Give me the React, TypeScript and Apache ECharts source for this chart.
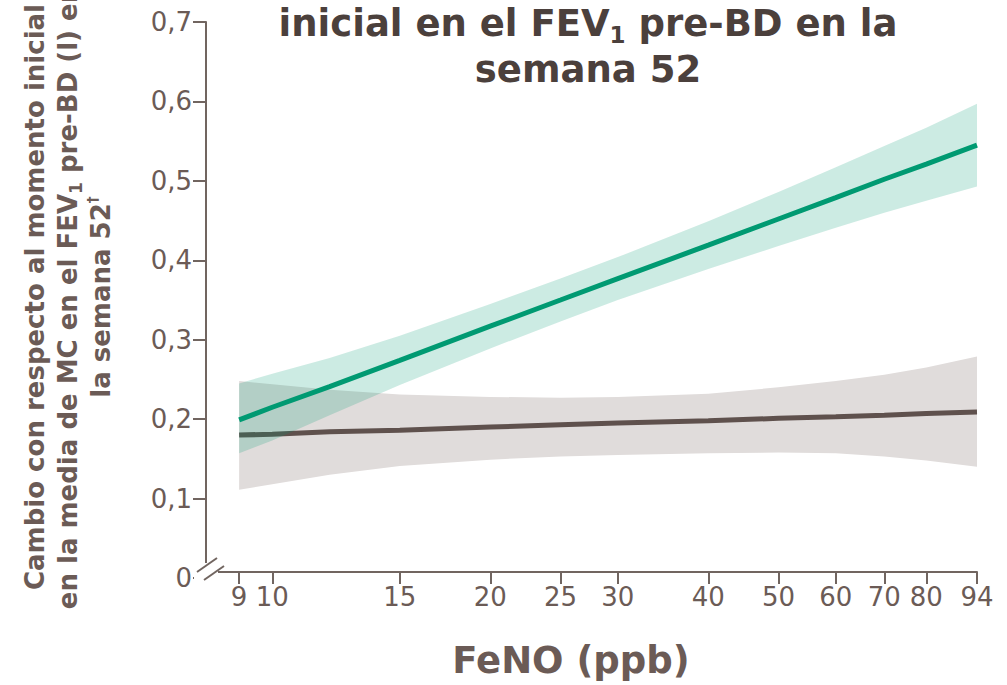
import React, { useEffect, useRef } from "react";
import * as echarts from "echarts";

// FeNO (ppb) sample points along the fitted curves
const fenoValues = [9, 10, 12, 15, 20, 25, 30, 40, 50, 60, 70, 80, 94];
// Tick labels on the (logarithmic) FeNO axis
const xTickLabels = [9, 10, 15, 20, 25, 30, 40, 50, 60, 70, 80, 94];
const xAxisMin = 8.1;
const xAxisMax = 94;

// Active treatment (green)
const activeMean = [0.199, 0.215, 0.241, 0.274, 0.317, 0.35, 0.377, 0.419, 0.452, 0.479, 0.502, 0.521, 0.545];
const activeUpper = [0.245, 0.257, 0.277, 0.305, 0.345, 0.377, 0.404, 0.449, 0.486, 0.517, 0.544, 0.567, 0.597];
const activeLower = [0.157, 0.173, 0.205, 0.243, 0.289, 0.323, 0.35, 0.389, 0.418, 0.441, 0.46, 0.475, 0.493];

// Placebo (grey)
const placeboMean = [0.18, 0.181, 0.184, 0.186, 0.19, 0.193, 0.195, 0.198, 0.201, 0.203, 0.205, 0.207, 0.209];
const placeboUpper = [0.248, 0.244, 0.237, 0.231, 0.228, 0.227, 0.228, 0.232, 0.24, 0.248, 0.256, 0.265, 0.279];
const placeboLower = [0.111, 0.118, 0.13, 0.141, 0.149, 0.153, 0.155, 0.157, 0.158, 0.157, 0.153, 0.148, 0.14];

const titleRich = "{a|inicial en el FEV}{s|1}{a| pre-BD en la}\n{a|semana 52}";
const yAxisTitleRich =
  "{a|Cambio con respecto al momento inicial}\n" +
  "{a|en la media de MC en el FEV}{s|1}{a| pre-BD (l) en}\n" +
  "{a|la semana 52}{d|†}";
const xAxisTitle = "FeNO (ppb)";

const AXIS = "#716560";
const TEXT = "#6b5b56";
const TITLE = "#4b403c";
const FONT = "DejaVu Sans, Verdana, sans-serif";

const lg = (v: number) => Math.log10(v);

function bandSeries(upper: number[], lower: number[], fill: string, z: number) {
  return {
    type: "custom",
    z,
    silent: true,
    data: [[lg(fenoValues[0]), lower[0]]],
    renderItem: (params: any, api: any) => {
      if (params.dataIndex !== 0) return null;
      const pts: number[][] = [];
      for (let i = 0; i < fenoValues.length; i++) pts.push(api.coord([lg(fenoValues[i]), upper[i]]));
      for (let i = fenoValues.length - 1; i >= 0; i--) pts.push(api.coord([lg(fenoValues[i]), lower[i]]));
      return { type: "polygon", shape: { points: pts }, style: { fill } };
    },
  };
}

function lineSeries(values: number[], color: string, z: number) {
  return {
    type: "line",
    z,
    silent: true,
    showSymbol: false,
    data: fenoValues.map((f, i) => [lg(f), values[i]]),
    lineStyle: { color, width: 5 },
  };
}

export default function App() {
  const ref = useRef<HTMLDivElement>(null);
  useEffect(() => {
    if (!ref.current) return;
    const chart = echarts.init(ref.current, null, { renderer: "svg" });
    chart.setOption({
      animation: false,
      backgroundColor: "#ffffff",
      grid: { left: 206, right: 30, top: 22, bottom: 107 },
      xAxis: {
        type: "value",
        min: lg(xAxisMin),
        max: lg(xAxisMax),
        offset: -6,
        splitLine: { show: false },
        axisLine: { show: true, lineStyle: { color: AXIS, width: 2 } },
        axisTick: {
          show: true,
          customValues: xTickLabels.map(lg),
          length: 12,
          lineStyle: { color: AXIS, width: 2 },
        },
        axisLabel: {
          customValues: xTickLabels.map(lg),
          formatter: (v: number) => String(Math.round(Math.pow(10, v))),
          color: TEXT,
          fontFamily: FONT,
          fontSize: 26,
          margin: 12,
          showMinLabel: true,
          showMaxLabel: true,
        },
      },
      yAxis: {
        type: "value",
        min: 0,
        max: 0.7,
        interval: 0.1,
        splitLine: { show: false },
        axisLine: { show: true, lineStyle: { color: AXIS, width: 2 } },
        axisTick: { show: true, length: 13, lineStyle: { color: AXIS, width: 2 } },
        axisLabel: {
          formatter: (v: number) => (Math.abs(v) < 1e-9 ? "0" : v.toFixed(1).replace(".", ",")),
          color: TEXT,
          fontFamily: FONT,
          fontSize: 26,
          margin: 14,
        },
      },
      series: [
        bandSeries(placeboUpper, placeboLower, "#e0dcdb", 1),
        lineSeries(placeboMean, "#5f514d", 2),
        bandSeries(activeUpper, activeLower, "rgba(0,154,114,0.2)", 3),
        lineSeries(activeMean, "#009a72", 4),
      ],
      graphic: [
        // axis break
        { type: "rect", shape: { x: 194, y: 563, width: 24, height: 17 }, style: { fill: "#ffffff" }, z: 50 },
        { type: "line", shape: { x1: 197, y1: 572, x2: 217, y2: 558 }, style: { stroke: AXIS, lineWidth: 2 }, z: 51 },
        { type: "line", shape: { x1: 204, y1: 580, x2: 224, y2: 566 }, style: { stroke: AXIS, lineWidth: 2 }, z: 51 },
        {
          type: "text",
          x: 588,
          y: 0,
          z: 60,
          style: {
            text: titleRich,
            align: "center",
            verticalAlign: "top",
            rich: {
              a: { fill: TITLE, font: `bold 37px ${FONT}`, lineHeight: 46 },
              s: { fill: TITLE, font: `bold 23px ${FONT}`, lineHeight: 23, verticalAlign: "bottom" },
            },
          },
        },
        {
          type: "text",
          x: 68,
          y: 297,
          rotation: Math.PI / 2,
          z: 60,
          style: {
            text: yAxisTitleRich,
            align: "center",
            verticalAlign: "middle",
            rich: {
              a: { fill: TEXT, font: `bold 26px ${FONT}`, lineHeight: 33 },
              s: { fill: TEXT, font: `bold 17px ${FONT}`, lineHeight: 17, verticalAlign: "bottom" },
              d: { fill: TEXT, font: `bold 14px ${FONT}`, lineHeight: 33, verticalAlign: "top", padding: [0, 0, 12, 0] },
            },
          },
        },
        {
          type: "text",
          x: 571,
          y: 660,
          z: 60,
          style: {
            text: xAxisTitle,
            fill: TEXT,
            font: `bold 37px ${FONT}`,
            align: "center",
            verticalAlign: "middle",
          },
        },
      ],
    });
    return () => chart.dispose();
  }, []);
  return (
    <div
      ref={ref}
      style={{ position: "fixed", left: 0, top: 0, width: 1007, height: 685, background: "#fff" }}
    />
  );
}
